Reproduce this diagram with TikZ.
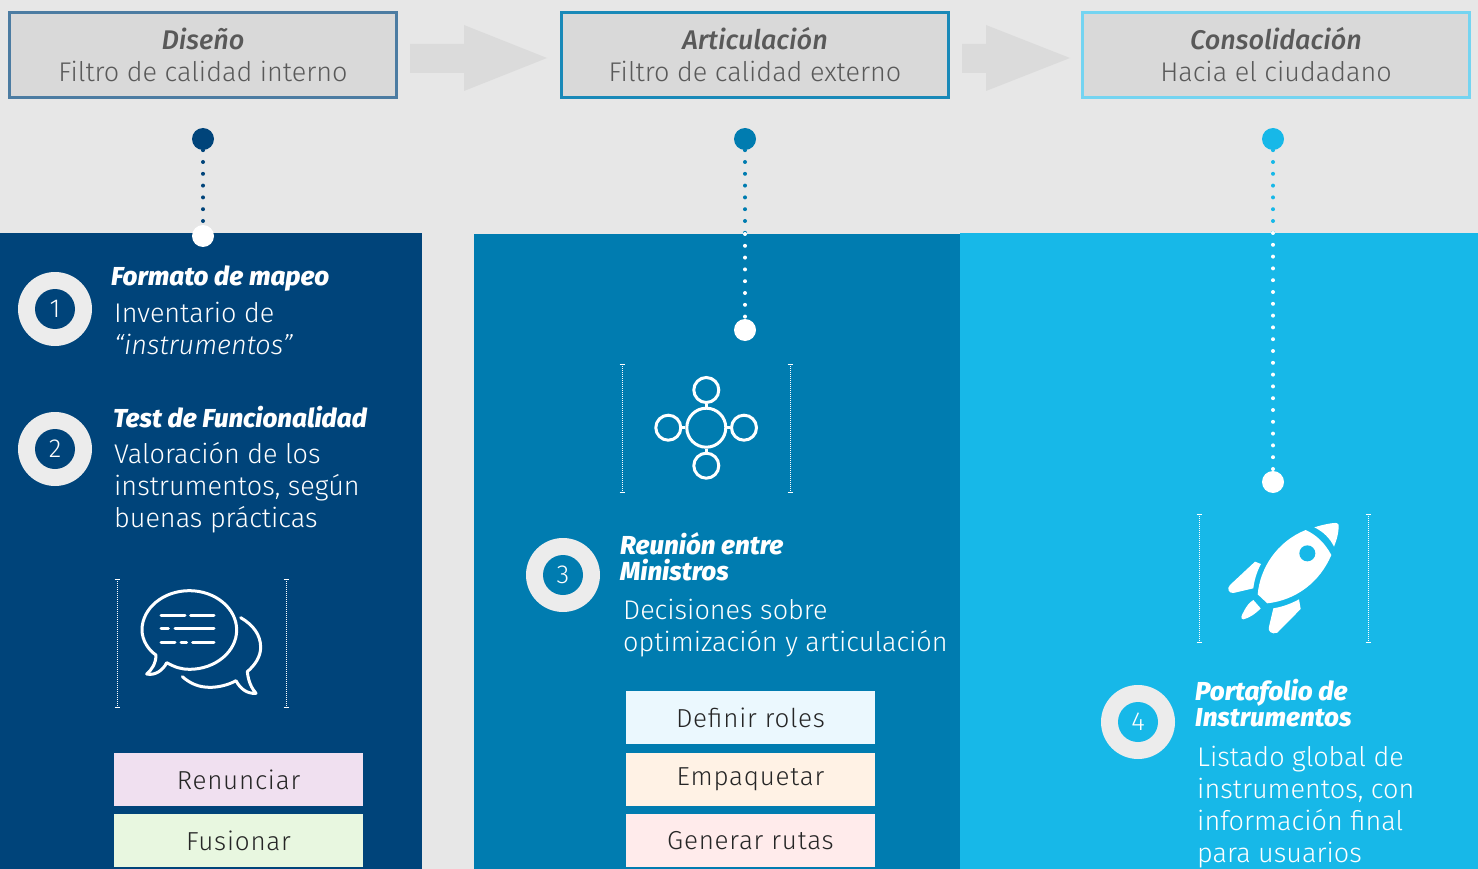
\documentclass[tikz,border=0pt]{standalone}
\usepackage{fontspec}
\setmainfont{Fira Sans Light}
\newfontfamily\heavyfont{Fira Sans ExtraBold}
\newfontfamily\medfont{Fira Sans Medium}
\definecolor{fondo}{HTML}{E7E7E7}
\definecolor{azula}{HTML}{00447A}
\definecolor{azulb}{HTML}{007CB0}
\definecolor{azulc}{HTML}{17B8E8}
\tikzset{
cabecera/.style={draw,line width=2.5pt,fill=black!15,minimum width=387pt,minimum height=85pt,inner sep=0pt,align=center,text=black!65,font=\fontsize{27}{32}\selectfont},
opcion/.style={minimum width=249pt,minimum height=53pt,inner sep=0pt,text=black!85,font=\fontsize{26}{30}\selectfont\addfontfeature{LetterSpace=3}},
flecha/.style={fill=black!5!fondo},
punto/.style={circle,minimum size=22pt,inner sep=0pt},
puntos/.style={line width=4pt,line cap=round,dash pattern=on 0pt off 11.8pt},
aro/.style={circle,fill=fondo!80!white,minimum size=74pt,inner sep=0pt},
numero/.style={circle,minimum size=40pt,inner sep=0pt,text=white,font=\fontsize{26}{26}\selectfont},
titulo/.style={anchor=north west,inner sep=0pt,align=left,text=white,font=\fontsize{26}{26}\heavyfont\itshape},
cuerpo/.style={anchor=north west,inner sep=0pt,align=left,text=white,font=\fontsize{27}{32}\selectfont},
marca/.style={white,line width=0.8pt,dash pattern=on 1pt off 1pt},
icono/.style={white,line width=3pt,line cap=round,line join=round},
}
\begin{document}
\begin{tikzpicture}[x=1pt,y=-1pt]
\useasboundingbox (0,0) rectangle (1478,869);
\fill[fondo] (0,0) rectangle (1478,869);
\fill[azula] (0,233) rectangle (422,869);
\fill[azulb] (474,234) rectangle (960,869);
\fill[azulc] (960,233) rectangle (1478,869);
% cabeceras
\node[cabecera,draw=azula!70!white] (disenio) at (203,55) {{\medfont\itshape Diseño}\\Filtro de calidad interno};
\node[cabecera,draw=azulb!90!white] (articula) at (755,55) {{\medfont\itshape Articulación}\\Filtro de calidad externo};
\node[cabecera,draw=azulc!60!white] (consolida) at (1276,55) {{\medfont\itshape Consolidación}\\Hacia el ciudadano};
\fill[flecha] (410,44)--++(54,0)--++(0,-19)--(547,58)--(464,91)--++(0,-18)--++(-54,0)--cycle;
\fill[flecha] (962,44)--++(24,0)--++(0,-19)--(1070,58)--(986,91)--++(0,-18)--++(-24,0)--cycle;
% puntos
\node[punto,fill=azula] (da) at (203,139) {};
\node[punto,fill=azulb] (aa) at (745,139) {};
\node[punto,fill=azulc] (ca) at (1273,139) {};
\coordinate (db) at (203,233);
\coordinate (ab) at (745,234);
\coordinate (cb) at (1273,233);
\draw[puntos,azula] (da)--(db);
\draw[puntos,azulb] (aa)--(ab);
\draw[puntos,azulc] (ca)--(cb);
\node[punto,fill=white] (dc) at (203,236) {};
\node[punto,fill=white] (ac) at (745,330) {};
\node[punto,fill=white] (cc) at (1273,482) {};
\draw[puntos,white] (ab)--(ac);
\draw[puntos,white] (cb)--(cc);
% numeros
\foreach \n/\x/\y/\c in {1/55/309/azula,2/55/449/azula,3/563/575/azulb,4/1138/722/azulc}{
\node[aro] (aro\n) at (\x,\y) {};
\node[numero,fill=\c] (num\n) at (aro\n) {\n};
}
% textos
\node[titulo] (t1) at (111,266) {Formato de mapeo};
\node[cuerpo] (c1) at (114,302) {Inventario de\\{\itshape “instrumentos”}};
\node[titulo] (t2) at (113,406) {Test de Funcionalidad};
\node[cuerpo] (c2) at (114,442) {Valoración de los\\instrumentos, según\\buenas prácticas};
\node[titulo] (t3) at (620,532) {Reunión entre\\Ministros};
\node[cuerpo] (c3) at (623,599) {Decisiones sobre\\optimización y articulación};
\node[titulo] (t4) at (1195,679) {Portafolio de\\Instrumentos};
\node[cuerpo] (c4) at (1197,746) {Listado global de\\instrumentos, con\\información final\\para usuarios};
% opciones
\node[opcion,fill=violet!12] (renuncia) at (238.5,779.5) {Renunciar};
\node[opcion,fill=green!50!olive!12] (fusiona) at (238.5,840.5) {Fusionar};
\node[opcion,fill=cyan!8] (roles) at (750.5,717.5) {Definir roles};
\node[opcion,fill=orange!10] (empaca) at (750.5,779.5) {Empaquetar};
\node[opcion,fill=red!8] (rutas) at (750.5,840.5) {Generar rutas};
% marcas de los iconos
\foreach \x/\y in {117/579,286/579,622/364,790/364,1199/514,1368/514}{
\draw[marca] (\x,\y)--++(0,128);
\draw[white,line width=0.8pt] (\x-2.5,\y)--++(5,0) (\x-2.5,\y+128)--++(5,0);
}
% icono de conversacion
\begin{scope}[shift={(100,570)},x=1/3*1pt,y=-1/3*1pt]
\draw[icono] (200,278) .. controls (225,292) and (245,298) .. (268,298) .. controls (346,298) and (410,245) .. (410,180) .. controls (410,115) and (346,62) .. (268,62) .. controls (190,62) and (126,115) .. (126,180) .. controls (126,210) and (145,240) .. (168,255) .. controls (168,280) and (155,300) .. (140,312) .. controls (165,318) and (190,300) .. (200,278) -- cycle;
\draw[icono] (422,143) .. controls (460,165) and (482,195) .. (482,232) .. controls (482,260) and (465,285) .. (442,305) .. controls (445,335) and (455,355) .. (468,370) .. controls (440,372) and (420,355) .. (408,332) .. controls (385,345) and (355,352) .. (330,352) .. controls (295,352) and (270,340) .. (247,320);
\draw[icono] (183,135)--(255,135) (272,135)--(342,135) (183,176)--(205,176) (225,176)--(342,176) (183,216)--(225,216) (243,216)--(260,216) (278,216)--(342,216);
\end{scope}
% icono de red
\node[circle,draw=white,line width=3pt,minimum size=39pt,inner sep=0pt] (centro) at (706.3,427.7) {};
\foreach \n/\x/\y in {arriba/706.3/390,izq/668.3/427.7,der/744/427.7,abajo/706.3/465.7}{
\node[circle,draw=white,line width=3pt,minimum size=25pt,inner sep=0pt] (\n) at (\x,\y) {};
\draw[white,line width=3pt] (centro)--(\n);
}
% icono de cohete
\begin{scope}[shift={(1190,505)},x=1/3*1pt,y=-1/3*1pt]
\fill[white] (347,75) .. controls (260,110) and (210,190) .. (203,268) -- (232,295) .. controls (320,285) and (390,230) .. (424,150) .. controls (405,115) and (380,90) .. (347,75) -- cycle;
\fill[azulc] (352,145) circle (24);
\fill[white] (373,67) .. controls (395,60) and (425,53) .. (440,54) .. controls (447,55) and (447,62) .. (446,68) .. controls (445,90) and (438,110) .. (432,125) .. controls (420,100) and (400,80) .. (373,67) -- cycle;
\fill[white] (195,170) -- (213,177) .. controls (200,200) and (192,230) .. (190,250) -- (130,264) .. controls (115,265) and (110,250) .. (120,240) -- cycle;
\fill[white] (327,283) -- (332,312) -- (262,383) .. controls (245,390) and (232,378) .. (237,365) -- (250,310) .. controls (280,305) and (305,295) .. (327,283) -- cycle;
\fill[white] (190,285) -- (212,310) .. controls (195,328) and (175,340) .. (160,343) .. controls (150,343) and (155,330) .. (160,322) .. controls (168,305) and (178,292) .. (190,285) -- cycle;
\end{scope}
\end{tikzpicture}
\end{document}
